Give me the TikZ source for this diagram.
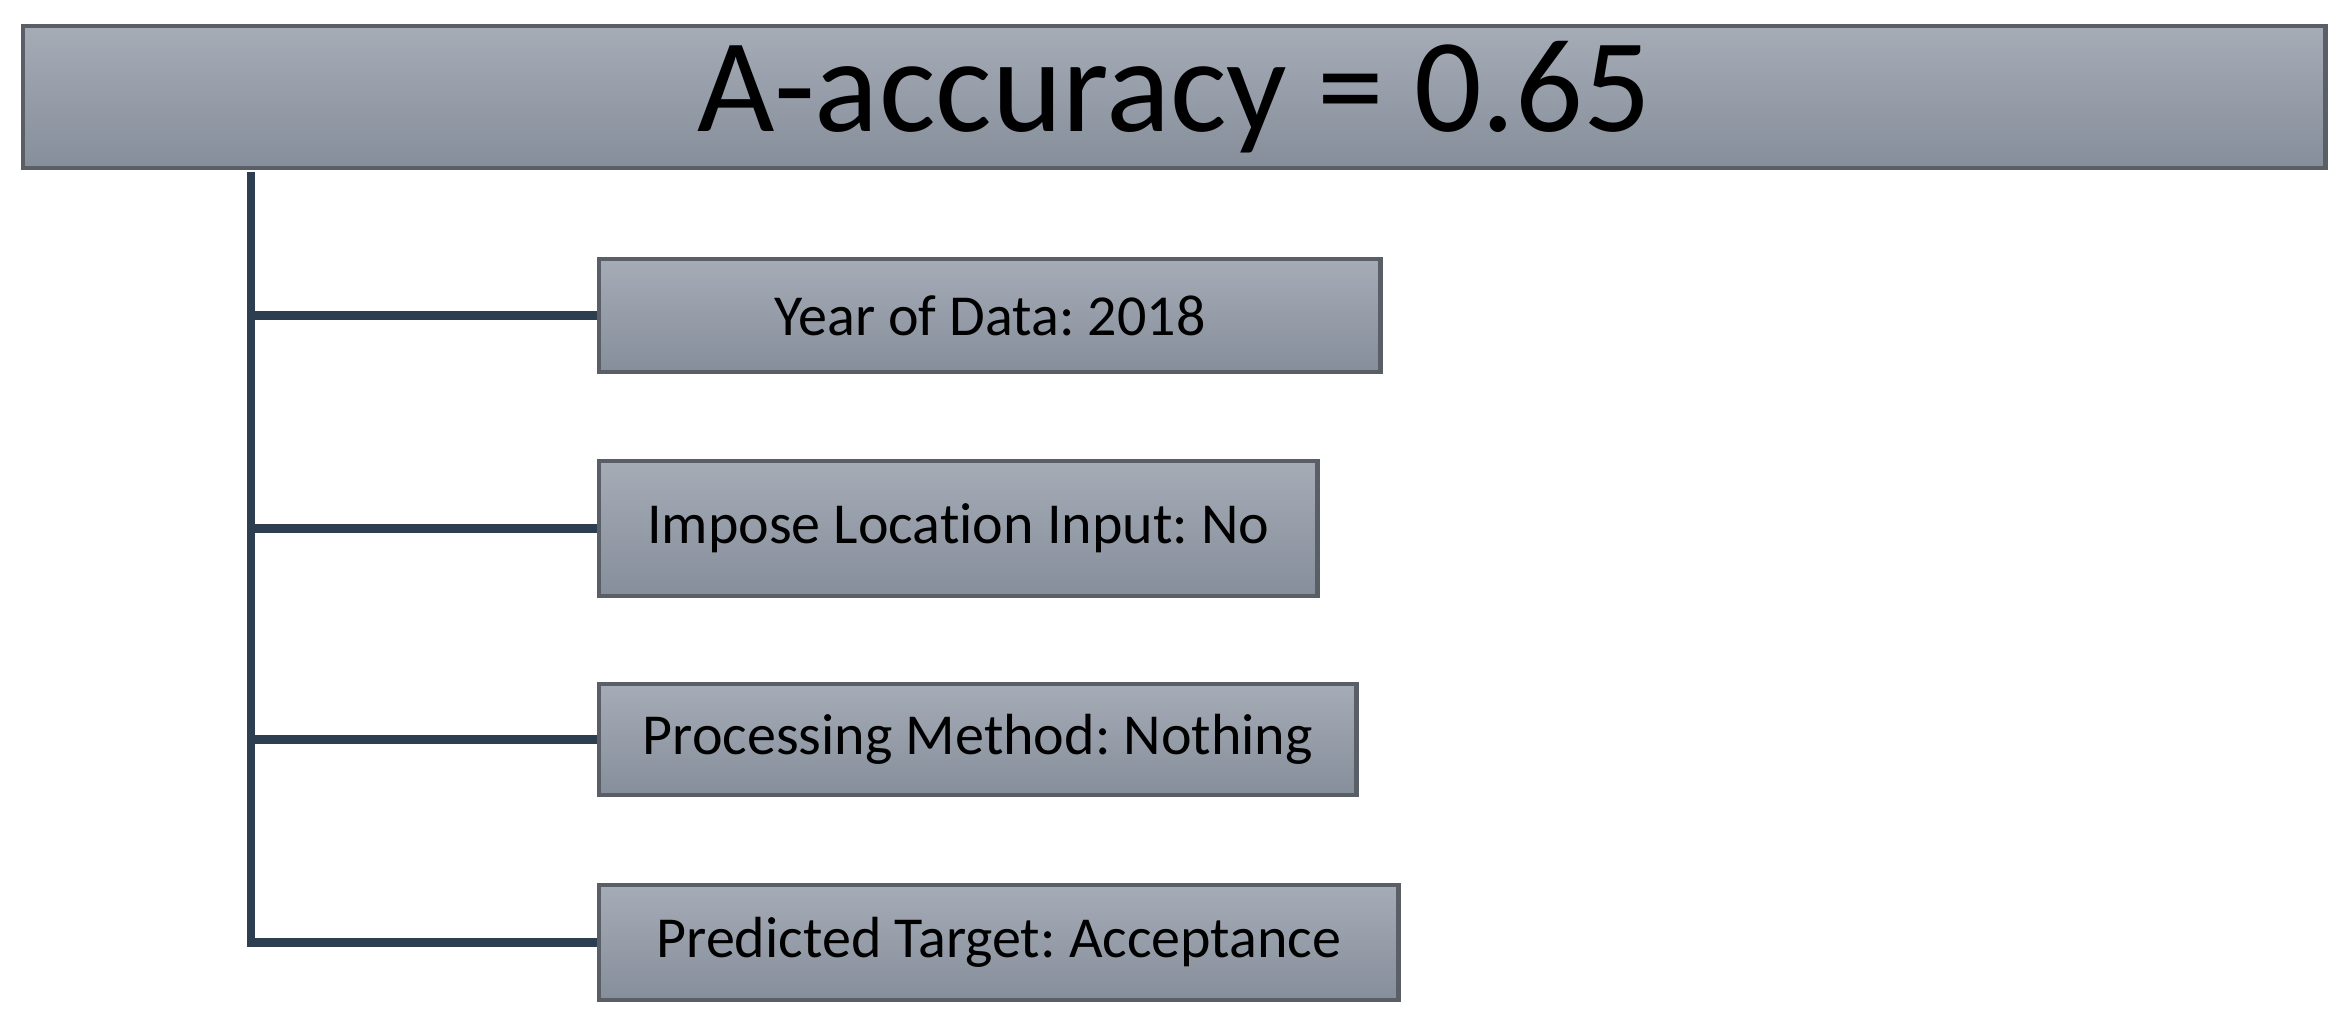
\documentclass[tikz,border=0pt]{standalone}
\usepackage{fontspec}
\setmainfont{Carlito}[Ligatures=NoCommon]
\frenchspacing
\definecolor{boxtop}{HTML}{A5ACB6}
\definecolor{boxbot}{HTML}{868E9B}
\definecolor{boxedge}{HTML}{5A5E66}
\definecolor{conncol}{HTML}{2C3E50}
\begin{document}
\begin{tikzpicture}[x=0.01cm,y=-0.01cm,
  box/.style={draw=boxedge, line width=1.2pt, top color=boxtop, bottom color=boxbot,
    inner sep=0pt, anchor=north west, align=center},
  smallbox/.style={box, font=\fontsize{16.5}{20}\selectfont},
  conn/.style={draw=conncol, line width=2.4pt, line join=miter}]
\useasboundingbox (0,0) rectangle (2346,1024);
\fill[white] (0,0) rectangle (2346,1024);
\node[box, minimum width=23.01cm, minimum height=1.42cm, font=\fontsize{38}{44}\selectfont] (top) at (21,24) {A-accuracy = 0.65};
\node[smallbox, minimum width=7.81cm, minimum height=1.13cm] (year) at (597,257) {Year of Data: 2018};
\node[smallbox, minimum width=7.18cm, minimum height=1.35cm] (impose) at (597,459) {Impose Location Input: No};
\node[smallbox, minimum width=7.57cm, minimum height=1.11cm] (proc) at (597,682) {Processing Method: Nothing};
\node[smallbox, minimum width=7.99cm, minimum height=1.15cm] (pred) at (597,883) {Predicted Target: Acceptance};
\coordinate (trunk) at (251,172);
\draw[conn] (trunk) |- (year.west);
\draw[conn] (trunk) |- (impose.west);
\draw[conn] (trunk) |- (proc.west);
\draw[conn] (trunk) |- (pred.west);
\end{tikzpicture}
\end{document}
